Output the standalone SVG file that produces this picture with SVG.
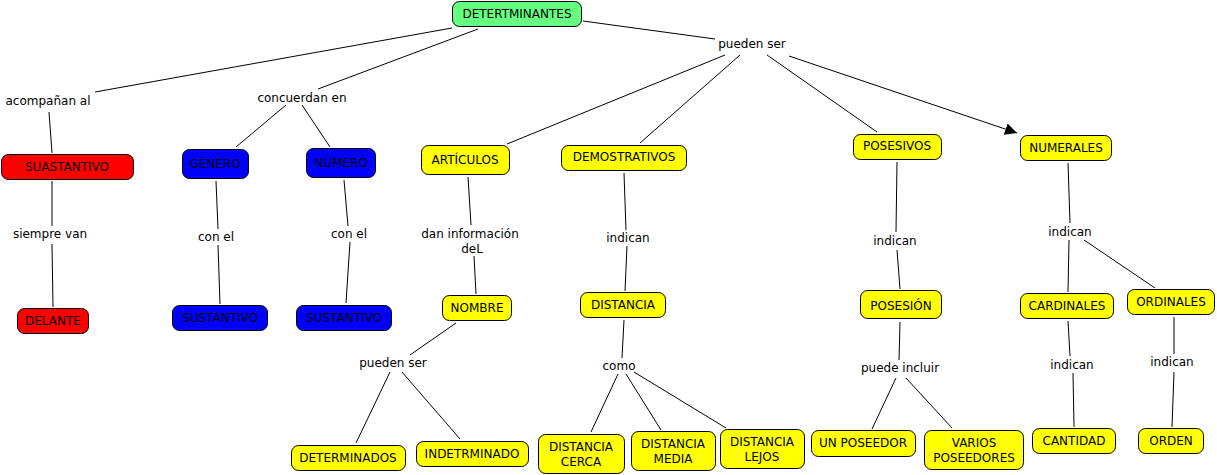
<svg xmlns="http://www.w3.org/2000/svg" width="1217" height="475" viewBox="0 0 1217 475">
<style>
text{font-family:"DejaVu Sans","Verdana",sans-serif;font-size:12px;fill:#000;text-anchor:middle;dominant-baseline:central}
.n rect{stroke:#000;stroke-width:1;rx:7;ry:7}
.g rect{fill:#66ff80}
.r rect{fill:#ff0000}
.b rect{fill:#0000ff}
.y rect{fill:#ffff00}
#connectors line{stroke:#000;stroke-width:1}
</style>
<defs>
<marker id="arr" viewBox="0 0 10 10" refX="10" refY="5" markerWidth="12" markerHeight="12" markerUnits="userSpaceOnUse" orient="auto">
<path d="M0,0 L10,5 L0,10 z" fill="#000"/>
</marker>
</defs>
<rect width="1217" height="475" fill="#fff"/>
<g id="connectors">
<line x1="452" y1="28" x2="95" y2="92"/>
<line x1="478" y1="29" x2="318" y2="89"/>
<line x1="583" y1="21" x2="715" y2="39"/>
<line x1="725" y1="55" x2="507" y2="144"/>
<line x1="740" y1="55" x2="640" y2="143"/>
<line x1="767" y1="55" x2="877" y2="132"/>
<line x1="789" y1="56" x2="1017" y2="133" marker-end="url(#arr)"/>
<line x1="49" y1="112" x2="52" y2="153"/>
<line x1="286" y1="105" x2="236" y2="147"/>
<line x1="302" y1="105" x2="330" y2="147"/>
<line x1="52" y1="181" x2="52" y2="226"/>
<line x1="52" y1="244" x2="53" y2="307"/>
<line x1="216" y1="181" x2="218" y2="229"/>
<line x1="218" y1="245" x2="220" y2="304"/>
<line x1="344" y1="180" x2="348" y2="226"/>
<line x1="350" y1="242" x2="346" y2="303"/>
<line x1="468" y1="177" x2="471" y2="225"/>
<line x1="474" y1="256" x2="476" y2="294"/>
<line x1="624" y1="173" x2="626" y2="230"/>
<line x1="627" y1="246" x2="625" y2="291"/>
<line x1="897" y1="162" x2="896" y2="232"/>
<line x1="897" y1="250" x2="900" y2="289"/>
<line x1="1068" y1="163" x2="1070" y2="223"/>
<line x1="1069" y1="240" x2="1068" y2="292"/>
<line x1="1084" y1="240" x2="1155" y2="288"/>
<line x1="456" y1="323" x2="410" y2="355"/>
<line x1="390" y1="372" x2="356" y2="443"/>
<line x1="402" y1="372" x2="460" y2="439"/>
<line x1="624" y1="320" x2="622" y2="358"/>
<line x1="618" y1="374" x2="591" y2="432"/>
<line x1="626" y1="374" x2="661" y2="430"/>
<line x1="634" y1="372" x2="726" y2="428"/>
<line x1="900" y1="322" x2="899" y2="360"/>
<line x1="896" y1="378" x2="872" y2="429"/>
<line x1="906" y1="378" x2="952" y2="428"/>
<line x1="1068" y1="321" x2="1070" y2="356"/>
<line x1="1073" y1="373" x2="1074" y2="427"/>
<line x1="1174" y1="317" x2="1174" y2="354"/>
<line x1="1174" y1="372" x2="1172" y2="427"/>
</g>
<g id="labels">
<text x="752" y="44">pueden ser</text>
<text x="48" y="101">acompañan al</text>
<text x="302" y="98">concuerdan en</text>
<text x="50" y="234">siempre van</text>
<text x="216" y="237">con el</text>
<text x="349" y="234">con el</text>
<text x="470" y="234">dan información</text>
<text x="472" y="249">deL</text>
<text x="628" y="238">indican</text>
<text x="895" y="241">indican</text>
<text x="1070" y="232">indican</text>
<text x="393" y="363">pueden ser</text>
<text x="619" y="366">como</text>
<text x="900" y="368">puede incluir</text>
<text x="1072" y="365">indican</text>
<text x="1172" y="362">indican</text>
</g>
<g id="n-determinantes" class="n g"><rect x="452.5" y="1.5" width="129" height="25"/><text x="517" y="14">DETERTMINANTES</text></g>
<g id="n-suastantivo" class="n r"><rect x="1.5" y="154.5" width="132" height="25"/><text x="67" y="167">SUASTANTIVO</text></g>
<g id="n-genero" class="n b"><rect x="182.5" y="149.5" width="66" height="29"/><text x="215" y="164">GÉNERO</text></g>
<g id="n-numero" class="n b"><rect x="306.5" y="148.5" width="69" height="29"/><text x="341" y="163">NÚMERO</text></g>
<g id="n-articulos" class="n y"><rect x="421.5" y="145.5" width="88" height="29"/><text x="465" y="160">ARTÍCULOS</text></g>
<g id="n-demostrativos" class="n y"><rect x="561.5" y="145.5" width="125" height="25"/><text x="624" y="157">DEMOSTRATIVOS</text></g>
<g id="n-posesivos" class="n y"><rect x="853.5" y="134.5" width="88" height="25"/><text x="897" y="146">POSESIVOS</text></g>
<g id="n-numerales" class="n y"><rect x="1020.5" y="135.5" width="91" height="25"/><text x="1066" y="148">NUMERALES</text></g>
<g id="n-delante" class="n r"><rect x="17.5" y="308.5" width="71" height="25"/><text x="53" y="321">DELANTE</text></g>
<g id="n-sustantivo1" class="n b"><rect x="172.5" y="305.5" width="95" height="25"/><text x="220" y="318">SUSTANTIVO</text></g>
<g id="n-sustantivo2" class="n b"><rect x="296.5" y="305.5" width="95" height="25"/><text x="344" y="318">SUSTANTIVO</text></g>
<g id="n-nombre" class="n y"><rect x="442.5" y="295.5" width="69" height="25"/><text x="477" y="308">NOMBRE</text></g>
<g id="n-distancia" class="n y"><rect x="580.5" y="292.5" width="85" height="25"/><text x="623" y="305">DISTANCIA</text></g>
<g id="n-posesion" class="n y"><rect x="860.5" y="290.5" width="81" height="28"/><text x="901" y="306">POSESIÓN</text></g>
<g id="n-cardinales" class="n y"><rect x="1020.5" y="293.5" width="93" height="25"/><text x="1067" y="306">CARDINALES</text></g>
<g id="n-ordinales" class="n y"><rect x="1127.5" y="289.5" width="87" height="25"/><text x="1171" y="302">ORDINALES</text></g>
<g id="n-determinados" class="n y"><rect x="291.5" y="445.5" width="114" height="25"/><text x="348" y="458">DETERMINADOS</text></g>
<g id="n-indetrminado" class="n y"><rect x="416.5" y="441.5" width="112" height="25"/><text x="472" y="454">INDETRMINADO</text></g>
<g id="n-cerca" class="n y"><rect x="538.5" y="434.5" width="86" height="39"/><text x="581" y="447">DISTANCIA</text><text x="581" y="462">CERCA</text></g>
<g id="n-media" class="n y"><rect x="631.5" y="431.5" width="84" height="39"/><text x="673" y="444">DISTANCIA</text><text x="673" y="459">MEDIA</text></g>
<g id="n-lejos" class="n y"><rect x="720.5" y="429.5" width="84" height="39"/><text x="762" y="442">DISTANCIA</text><text x="762" y="457">LEJOS</text></g>
<g id="n-unposeedor" class="n y"><rect x="811.5" y="430.5" width="104" height="26"/><text x="863" y="443">UN POSEEDOR</text></g>
<g id="n-varios" class="n y"><rect x="924.5" y="430.5" width="99" height="39"/><text x="974" y="443">VARIOS</text><text x="974" y="458">POSEEDORES</text></g>
<g id="n-cantidad" class="n y"><rect x="1032.5" y="428.5" width="83" height="25"/><text x="1074" y="441">CANTIDAD</text></g>
<g id="n-orden" class="n y"><rect x="1138.5" y="428.5" width="65" height="25"/><text x="1171" y="441">ORDEN</text></g>
</svg>
